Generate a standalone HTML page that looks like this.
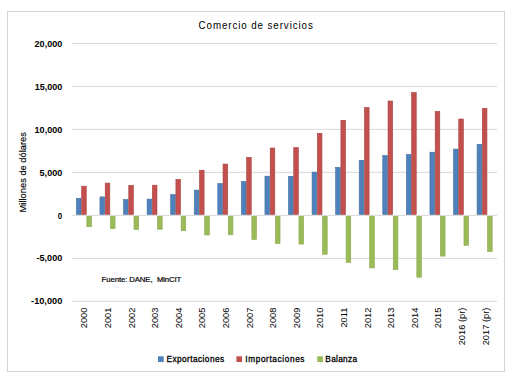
<!DOCTYPE html>
<html><head><meta charset="utf-8"><style>
html,body{margin:0;padding:0;background:#fff;width:517px;height:384px;overflow:hidden}
svg{position:absolute;left:0;top:0;display:block}
text{font-family:"Liberation Sans",sans-serif;fill:#000}
.yl{font-size:8.4px;font-weight:bold}
.xl{font-size:9.3px}
.t{font-size:10.2px}
.yt{font-size:9.3px;stroke:#000;stroke-width:0.15px}
.lg{font-size:8.3px;stroke:#000;stroke-width:0.3px}
.src{font-size:7.8px;stroke:#000;stroke-width:0.2px}
</style></head><body>
<svg width="517" height="384" viewBox="0 0 517 384">
<rect x="7.5" y="11.5" width="497" height="360" fill="#fff" stroke="#d4d4d4" stroke-width="1"/>
<line x1="72" x2="497" y1="43.40" y2="43.40" stroke="#d9d9d9" stroke-width="1"/>
<line x1="72" x2="497" y1="86.40" y2="86.40" stroke="#d9d9d9" stroke-width="1"/>
<line x1="72" x2="497" y1="129.40" y2="129.40" stroke="#d9d9d9" stroke-width="1"/>
<line x1="72" x2="497" y1="172.40" y2="172.40" stroke="#d9d9d9" stroke-width="1"/>
<line x1="72" x2="497" y1="258.40" y2="258.40" stroke="#d9d9d9" stroke-width="1"/>
<line x1="72" x2="497" y1="301.40" y2="301.40" stroke="#d9d9d9" stroke-width="1"/>
<rect x="76.38" y="198.30" width="4.64" height="16.30" fill="#4f81bd" stroke="#41709f" stroke-width="0.6"/>
<rect x="81.62" y="186.20" width="4.64" height="28.40" fill="#c4504e" stroke="#a64543" stroke-width="0.6"/>
<rect x="86.85" y="216.20" width="4.64" height="10.50" fill="#9bbb59" stroke="#8aa84d" stroke-width="0.6"/>
<rect x="99.95" y="196.90" width="4.64" height="17.70" fill="#4f81bd" stroke="#41709f" stroke-width="0.6"/>
<rect x="105.19" y="183.10" width="4.64" height="31.50" fill="#c4504e" stroke="#a64543" stroke-width="0.6"/>
<rect x="110.42" y="216.20" width="4.64" height="12.40" fill="#9bbb59" stroke="#8aa84d" stroke-width="0.6"/>
<rect x="123.52" y="199.50" width="4.64" height="15.10" fill="#4f81bd" stroke="#41709f" stroke-width="0.6"/>
<rect x="128.76" y="185.30" width="4.64" height="29.30" fill="#c4504e" stroke="#a64543" stroke-width="0.6"/>
<rect x="133.99" y="216.20" width="4.64" height="13.20" fill="#9bbb59" stroke="#8aa84d" stroke-width="0.6"/>
<rect x="147.09" y="199.10" width="4.64" height="15.50" fill="#4f81bd" stroke="#41709f" stroke-width="0.6"/>
<rect x="152.33" y="185.20" width="4.64" height="29.40" fill="#c4504e" stroke="#a64543" stroke-width="0.6"/>
<rect x="157.56" y="216.20" width="4.64" height="13.00" fill="#9bbb59" stroke="#8aa84d" stroke-width="0.6"/>
<rect x="170.66" y="194.60" width="4.64" height="20.00" fill="#4f81bd" stroke="#41709f" stroke-width="0.6"/>
<rect x="175.90" y="179.40" width="4.64" height="35.20" fill="#c4504e" stroke="#a64543" stroke-width="0.6"/>
<rect x="181.13" y="216.20" width="4.64" height="14.50" fill="#9bbb59" stroke="#8aa84d" stroke-width="0.6"/>
<rect x="194.23" y="190.10" width="4.64" height="24.50" fill="#4f81bd" stroke="#41709f" stroke-width="0.6"/>
<rect x="199.47" y="170.20" width="4.64" height="44.40" fill="#c4504e" stroke="#a64543" stroke-width="0.6"/>
<rect x="204.70" y="216.20" width="4.64" height="18.80" fill="#9bbb59" stroke="#8aa84d" stroke-width="0.6"/>
<rect x="217.80" y="183.50" width="4.64" height="31.10" fill="#4f81bd" stroke="#41709f" stroke-width="0.6"/>
<rect x="223.04" y="164.00" width="4.64" height="50.60" fill="#c4504e" stroke="#a64543" stroke-width="0.6"/>
<rect x="228.27" y="216.20" width="4.64" height="18.60" fill="#9bbb59" stroke="#8aa84d" stroke-width="0.6"/>
<rect x="241.37" y="181.50" width="4.64" height="33.10" fill="#4f81bd" stroke="#41709f" stroke-width="0.6"/>
<rect x="246.61" y="157.30" width="4.64" height="57.30" fill="#c4504e" stroke="#a64543" stroke-width="0.6"/>
<rect x="251.84" y="216.20" width="4.64" height="23.20" fill="#9bbb59" stroke="#8aa84d" stroke-width="0.6"/>
<rect x="264.94" y="176.20" width="4.64" height="38.40" fill="#4f81bd" stroke="#41709f" stroke-width="0.6"/>
<rect x="270.18" y="148.00" width="4.64" height="66.60" fill="#c4504e" stroke="#a64543" stroke-width="0.6"/>
<rect x="275.41" y="216.20" width="4.64" height="27.30" fill="#9bbb59" stroke="#8aa84d" stroke-width="0.6"/>
<rect x="288.51" y="176.30" width="4.64" height="38.30" fill="#4f81bd" stroke="#41709f" stroke-width="0.6"/>
<rect x="293.75" y="147.50" width="4.64" height="67.10" fill="#c4504e" stroke="#a64543" stroke-width="0.6"/>
<rect x="298.98" y="216.20" width="4.64" height="27.90" fill="#9bbb59" stroke="#8aa84d" stroke-width="0.6"/>
<rect x="312.08" y="172.10" width="4.64" height="42.50" fill="#4f81bd" stroke="#41709f" stroke-width="0.6"/>
<rect x="317.32" y="133.30" width="4.64" height="81.30" fill="#c4504e" stroke="#a64543" stroke-width="0.6"/>
<rect x="322.55" y="216.20" width="4.64" height="38.00" fill="#9bbb59" stroke="#8aa84d" stroke-width="0.6"/>
<rect x="335.65" y="167.30" width="4.64" height="47.30" fill="#4f81bd" stroke="#41709f" stroke-width="0.6"/>
<rect x="340.89" y="120.30" width="4.64" height="94.30" fill="#c4504e" stroke="#a64543" stroke-width="0.6"/>
<rect x="346.12" y="216.20" width="4.64" height="46.20" fill="#9bbb59" stroke="#8aa84d" stroke-width="0.6"/>
<rect x="359.22" y="160.30" width="4.64" height="54.30" fill="#4f81bd" stroke="#41709f" stroke-width="0.6"/>
<rect x="364.46" y="107.60" width="4.64" height="107.00" fill="#c4504e" stroke="#a64543" stroke-width="0.6"/>
<rect x="369.69" y="216.20" width="4.64" height="51.70" fill="#9bbb59" stroke="#8aa84d" stroke-width="0.6"/>
<rect x="382.79" y="155.50" width="4.64" height="59.10" fill="#4f81bd" stroke="#41709f" stroke-width="0.6"/>
<rect x="388.03" y="101.00" width="4.64" height="113.60" fill="#c4504e" stroke="#a64543" stroke-width="0.6"/>
<rect x="393.26" y="216.20" width="4.64" height="53.50" fill="#9bbb59" stroke="#8aa84d" stroke-width="0.6"/>
<rect x="406.36" y="154.50" width="4.64" height="60.10" fill="#4f81bd" stroke="#41709f" stroke-width="0.6"/>
<rect x="411.60" y="92.50" width="4.64" height="122.10" fill="#c4504e" stroke="#a64543" stroke-width="0.6"/>
<rect x="416.83" y="216.20" width="4.64" height="61.00" fill="#9bbb59" stroke="#8aa84d" stroke-width="0.6"/>
<rect x="429.93" y="152.20" width="4.64" height="62.40" fill="#4f81bd" stroke="#41709f" stroke-width="0.6"/>
<rect x="435.17" y="111.40" width="4.64" height="103.20" fill="#c4504e" stroke="#a64543" stroke-width="0.6"/>
<rect x="440.40" y="216.20" width="4.64" height="39.90" fill="#9bbb59" stroke="#8aa84d" stroke-width="0.6"/>
<rect x="453.50" y="149.10" width="4.64" height="65.50" fill="#4f81bd" stroke="#41709f" stroke-width="0.6"/>
<rect x="458.74" y="119.00" width="4.64" height="95.60" fill="#c4504e" stroke="#a64543" stroke-width="0.6"/>
<rect x="463.97" y="216.20" width="4.64" height="29.10" fill="#9bbb59" stroke="#8aa84d" stroke-width="0.6"/>
<rect x="477.07" y="144.40" width="4.64" height="70.20" fill="#4f81bd" stroke="#41709f" stroke-width="0.6"/>
<rect x="482.31" y="108.30" width="4.64" height="106.30" fill="#c4504e" stroke="#a64543" stroke-width="0.6"/>
<rect x="487.54" y="216.20" width="4.64" height="35.20" fill="#9bbb59" stroke="#8aa84d" stroke-width="0.6"/>
<line x1="72" x2="497" y1="215.4" y2="215.4" stroke="#d9d9d9" stroke-width="1"/>
<text x="34.60" y="46.84" class="yl" textLength="27.65" lengthAdjust="spacingAndGlyphs">20,000</text>
<text x="34.70" y="89.84" class="yl" textLength="27.55" lengthAdjust="spacingAndGlyphs">15,000</text>
<text x="34.60" y="132.84" class="yl" textLength="27.65" lengthAdjust="spacingAndGlyphs">10,000</text>
<text x="39.60" y="175.84" class="yl" textLength="22.65" lengthAdjust="spacingAndGlyphs">5,000</text>
<text x="57.80" y="218.94" class="yl" textLength="4.45" lengthAdjust="spacingAndGlyphs">0</text>
<text x="36.50" y="260.84" class="yl" textLength="25.75" lengthAdjust="spacingAndGlyphs">-5,000</text>
<text x="31.10" y="303.84" class="yl" textLength="31.15" lengthAdjust="spacingAndGlyphs">-10,000</text>
<text transform="translate(87.31,307.6) rotate(-90)" text-anchor="end" class="xl">2000</text>
<text transform="translate(110.92,307.6) rotate(-90)" text-anchor="end" class="xl">2001</text>
<text transform="translate(134.53,307.6) rotate(-90)" text-anchor="end" class="xl">2002</text>
<text transform="translate(158.14,307.6) rotate(-90)" text-anchor="end" class="xl">2003</text>
<text transform="translate(181.75,307.6) rotate(-90)" text-anchor="end" class="xl">2004</text>
<text transform="translate(205.36,307.6) rotate(-90)" text-anchor="end" class="xl">2005</text>
<text transform="translate(228.97,307.6) rotate(-90)" text-anchor="end" class="xl">2006</text>
<text transform="translate(252.58,307.6) rotate(-90)" text-anchor="end" class="xl">2007</text>
<text transform="translate(276.19,307.6) rotate(-90)" text-anchor="end" class="xl">2008</text>
<text transform="translate(299.81,307.6) rotate(-90)" text-anchor="end" class="xl">2009</text>
<text transform="translate(323.42,307.6) rotate(-90)" text-anchor="end" class="xl">2010</text>
<text transform="translate(347.03,307.6) rotate(-90)" text-anchor="end" class="xl">2011</text>
<text transform="translate(370.64,307.6) rotate(-90)" text-anchor="end" class="xl">2012</text>
<text transform="translate(394.25,307.6) rotate(-90)" text-anchor="end" class="xl">2013</text>
<text transform="translate(417.86,307.6) rotate(-90)" text-anchor="end" class="xl">2014</text>
<text transform="translate(441.47,307.6) rotate(-90)" text-anchor="end" class="xl">2015</text>
<text transform="translate(465.08,307.6) rotate(-90)" text-anchor="end" class="xl">2016 (pr)</text>
<text transform="translate(488.69,307.6) rotate(-90)" text-anchor="end" class="xl">2017 (pr)</text>
<text transform="translate(198.6,28.6) scale(0.96,1)" class="t" textLength="118.96" lengthAdjust="spacing">Comercio de servicios</text>
<text transform="translate(26.3,212.4) rotate(-90)" class="yt" textLength="80.3" lengthAdjust="spacing">Millones de d&#243;lares</text>
<text x="101.6" y="281.8" class="src" textLength="51" lengthAdjust="spacing">Fuente: DANE,</text>
<text x="157" y="281.8" class="src" textLength="24.2" lengthAdjust="spacing">MinCIT</text>
<rect x="158" y="356.3" width="5.7" height="5.7" fill="#4f81bd"/>
<text x="166.5" y="361.8" class="lg" textLength="57.6" lengthAdjust="spacing">Exportaciones</text>
<rect x="236.4" y="356.3" width="5.7" height="5.7" fill="#c0504d"/>
<text x="245.3" y="361.8" class="lg" textLength="59.2" lengthAdjust="spacing">Importaciones</text>
<rect x="317.2" y="356.3" width="5.7" height="5.7" fill="#9bbb59"/>
<text x="325.3" y="361.8" class="lg" textLength="31.8" lengthAdjust="spacing">Balanza</text>
</svg>
</body></html>
